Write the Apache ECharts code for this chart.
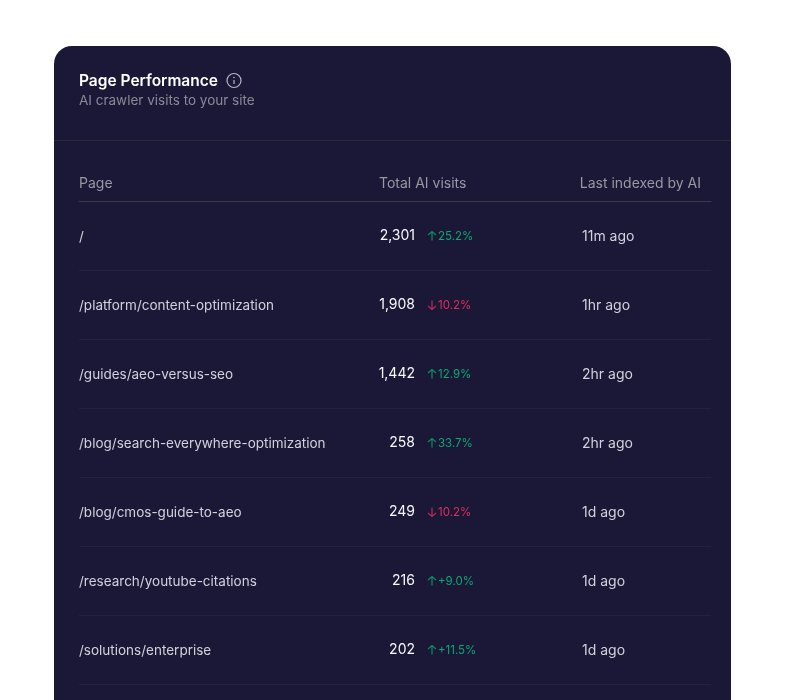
<!DOCTYPE html>
<html>
<head>
<meta charset="utf-8">
<style>html,body{margin:0;padding:0;background:#fff}#chart{width:786px;height:700px}</style>
<script src="https://cdn.jsdelivr.net/npm/echarts@6/dist/echarts.min.js"></script>
</head>
<body>
<div id="chart"></div>
<script>
const pages = ['/', '/platform/content-optimization', '/guides/aeo-versus-seo', '/blog/search-everywhere-optimization',
  '/blog/cmos-guide-to-aeo', '/research/youtube-citations', '/solutions/enterprise'];
const visits = ['2,301', '1,908', '1,442', '258', '249', '216', '202'];
const deltas = ['25.2%', '10.2%', '12.9%', '33.7%', '10.2%', '+9.0%', '+11.5%'];
const directions = ['up', 'down', 'up', 'up', 'down', 'up', 'up'];
const indexed = ['11m ago', '1hr ago', '2hr ago', '2hr ago', '1d ago', '1d ago', '1d ago'];
const headers = ['Page', 'Total AI visits', 'Last indexed by AI'];

const FONT = 'Inter, sans-serif';
const C = { card:'#1b1736', title:'#ffffff', sub:'#8b8896', head:'#9a98a2', text:'#d3d1dc', num:'#f8f7fb',
  line:'#3a3746', rowLine:'#25223a', up:'#0aa872', upArrow:'#0a8f62', down:'#dd2f58', downArrow:'#b72c50' };
const ARROW_UP = 'path://M5 10V1M1.5 4.5L5 1L8.5 4.5';
const ARROW_DOWN = 'path://M5 0V9M1.5 5.5L5 9L8.5 5.5';

// x positions are measured from the grid's left edge (79px)
const X_VISITS = 336, X_ARROW = 353, X_DELTA = 359, X_INDEXED = 503;
const textCol = (name, texts, x, align, color, size, weight, dy) => ({
  name, type:'scatter', symbolSize:0, silent:true, itemStyle:{opacity:1},
  data:texts.map((t, i) => ({ value:[x, pages[i]], text:t })),
  label:{ show:true, position:'inside', offset:[0, dy], formatter:p => p.data.text, align, verticalAlign:'middle',
    color, fontFamily:FONT, fontSize:size, fontWeight:weight }
});

const chart = echarts.init(document.getElementById('chart'), null, { renderer:'canvas' });
chart.setOption({
  animation:false,
  backgroundColor:'#ffffff',
  grid:{ left:79, top:201.5, width:632, height:483 },
  xAxis:{ type:'value', min:0, max:632, position:'top', show:true, axisTick:{show:false}, axisLabel:{show:false},
    splitLine:{show:false}, axisLine:{show:true, lineStyle:{color:C.line}} },
  yAxis:{ type:'category', data:pages, inverse:true, axisLine:{show:false}, axisTick:{show:false},
    axisLabel:{ show:false },
    splitLine:{ show:true, lineStyle:{color:C.rowLine} } },
  graphic:[
    { type:'rect', z:-1, shape:{x:54, y:46, width:677, height:700, r:18}, style:{fill:C.card} },
    { type:'line', z:-1, shape:{x1:54, y1:140.5, x2:731, y2:140.5}, style:{stroke:'#2c2939', lineWidth:1} },
    { type:'text', x:79, y:81, style:{text:'Page Performance', fill:C.title, font:'600 15.5px '+FONT, verticalAlign:'middle'} },
    { type:'text', x:79, y:101, style:{text:'AI crawler visits to your site', fill:C.sub, font:'400 13.5px '+FONT, verticalAlign:'middle'} },
    { type:'circle', shape:{cx:234, cy:80.5, r:7}, style:{fill:'none', stroke:'#b9b7c2', lineWidth:1.2} },
    { type:'line', shape:{x1:234, y1:80, x2:234, y2:84}, style:{stroke:'#b9b7c2', lineWidth:1.2} },
    { type:'circle', shape:{cx:234, cy:77.5, r:0.8}, style:{fill:'#b9b7c2'} },
    { type:'text', x:79, y:184, style:{text:headers[0], fill:C.head, font:'400 14px '+FONT, verticalAlign:'middle'} },
    { type:'text', x:379, y:184, style:{text:headers[1], fill:C.head, font:'400 14px '+FONT, verticalAlign:'middle'} },
    { type:'text', x:701, y:184, style:{text:headers[2], fill:C.head, font:'400 14px '+FONT, align:'right', verticalAlign:'middle'} }
  ],
  series:[
    textCol('page', pages, 0, 'left', C.text, 13.5, 400, 1),
    textCol('visits', visits, X_VISITS, 'right', C.num, 14, 400, 0),
    textCol('indexed', indexed, X_INDEXED, 'left', C.text, 14, 400, 1),
    {
      name:'arrow', type:'scatter', silent:true, symbolSize:[8, 9],
      data:directions.map((d, i) => ({ value:[X_ARROW, pages[i]], symbol:d === 'up' ? ARROW_UP : ARROW_DOWN,
        itemStyle:{ color:'none', opacity:1, borderColor:d === 'up' ? C.upArrow : C.downArrow, borderWidth:1.3 } }))
    },
    {
      name:'delta', type:'scatter', symbolSize:0, silent:true, itemStyle:{opacity:1},
      data:deltas.map((t, i) => ({ value:[X_DELTA, pages[i]], text:t,
        label:{ color:directions[i] === 'up' ? C.up : C.down } })),
      label:{ show:true, position:'inside', offset:[0, 1], formatter:p => p.data.text, align:'left', verticalAlign:'middle',
        fontFamily:FONT, fontSize:11.5 }
    }
  ]
});
</script>
</body>
</html>
